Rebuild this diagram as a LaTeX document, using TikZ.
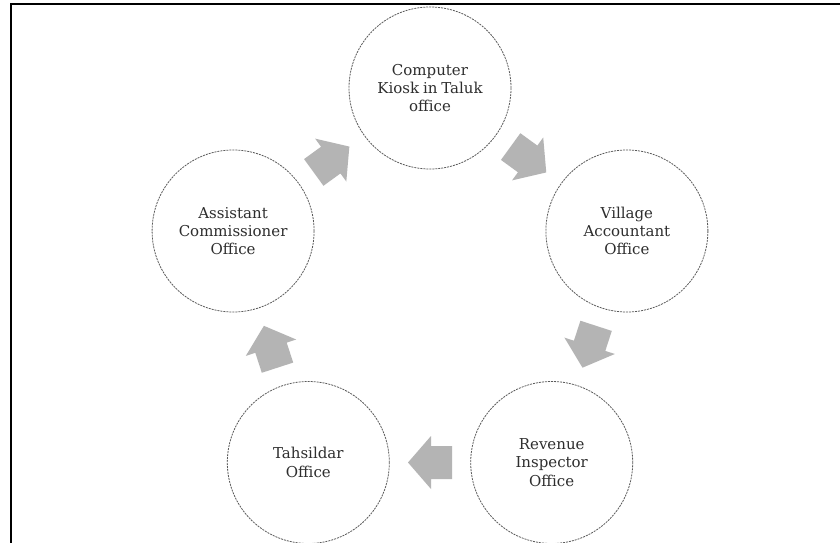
\documentclass[tikz,border=0pt]{standalone}
\usepackage{fontspec}
\setmainfont{DejaVu Serif}[WordSpace={0.8,0.5,0.3}]
\usetikzlibrary{calc}

\definecolor{ringline}{HTML}{5A5A5A}
\definecolor{labeltext}{HTML}{2E2E2E}
\definecolor{arrowfill}{HTML}{B4B4B4}

\tikzset{
  office/.style={circle, draw=ringline, line width=0.8pt,
    dash pattern=on 2pt off 1pt, minimum size=162pt, inner sep=0pt,
    align=center, text=labeltext,
    font=\fontsize{15}{18.3}\selectfont},
  frameline/.style={line width=2pt, black, line join=miter},
}

% block arrow centred between two offices, pointing from the first to the second
\newcommand\cyclearrow[2]{%
  \fill[arrowfill] let \p1=(#1.center), \p2=(#2.center),
    \p3=($(#1.center)!0.5!(#2.center)$),
    \n1={atan2(\y2-\y1,\x2-\x1)} in
    [shift={(\p3)}, rotate=\n1]
    (22,0) -- (-1,26.5) -- (-1,16.5) -- (-22,16.5) -- (-22,-16.5)
    -- (-1,-16.5) -- (-1,-26.5) -- cycle;}

\begin{document}
\begin{tikzpicture}[x=1pt, y=-1pt]
  \useasboundingbox (0,0) rectangle (840,543);
  \fill[white] (0,0) rectangle (840,543);

  % page frame (left and top edges)
  \draw[frameline] (11,545) -- (11,4) -- (842,4);

  % five offices on a regular pentagon
  \node[office] (kiosk)   at (430,88)    {Computer\\Kiosk in Taluk\\office};
  \node[office] (village) at (626.9,231) {Village\\Accountant\\Office};
  \node[office] (revenue) at (551.7,462.5) {Revenue\\Inspector\\Office};
  \node[office] (tahsil)  at (308.3,462.5) {Tahsildar\\Office};
  \node[office] (asst)    at (233.1,231) {Assistant\\Commissioner\\Office};

  % flow of the application
  \cyclearrow{kiosk}{village}
  \cyclearrow{village}{revenue}
  \cyclearrow{revenue}{tahsil}
  \cyclearrow{tahsil}{asst}
  \cyclearrow{asst}{kiosk}
\end{tikzpicture}
\end{document}
